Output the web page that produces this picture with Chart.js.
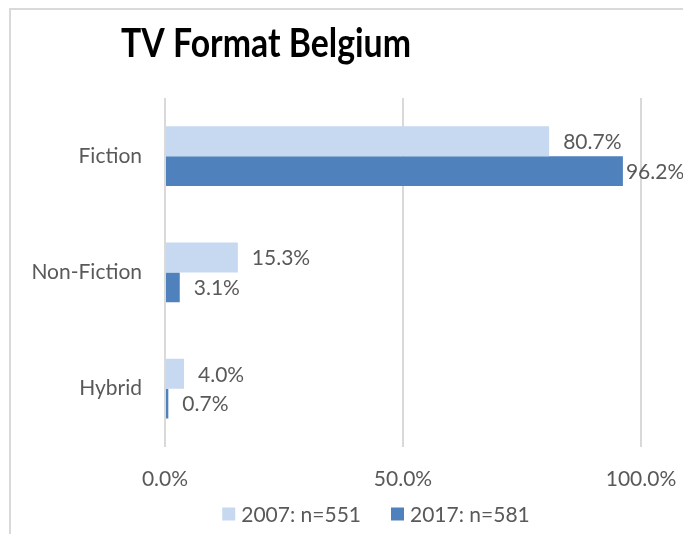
<!DOCTYPE html>
<html>
<head>
<meta charset="utf-8">
<script src="https://cdn.jsdelivr.net/npm/chart.js@4.4.1/dist/chart.umd.min.js"></script>
<style>
  html, body { margin: 0; padding: 0; background: #fff; }
  #wrap { position: relative; width: 683px; height: 534px; }
  #frame { position: absolute; left: 9px; top: 8px; right: 0; bottom: 0;
           border-top: 2px solid #d9d9d9; border-left: 2px solid #d9d9d9; }
  canvas { position: absolute; left: 0; top: 0; }
</style>
</head>
<body>
<div id="wrap">
  <div id="frame"></div>
  <canvas id="myChart" width="683" height="534"></canvas>
</div>
<script>
"use strict";

var categories = ["Fiction", "Non-Fiction", "Hybrid"];
var series2007 = [80.7, 15.3, 4.0];
var series2017 = [96.2, 3.1, 0.7];
var seriesNames = ["2007: n=551", "2017: n=581"];
var seriesColors = ["#c6d9f1", "#4f81bd"];
var tickValues = [0, 50, 100];

var FONT = "Lato, 'Liberation Sans', sans-serif";
var TEXT = "#595959";

// title + legend drawn on the canvas, placed where the original has them
var textPlugin = {
    id: "titleLegend",
    afterDraw: function (chart) {
        var c = chart.ctx;
        c.save();
        // the original title font is tall and narrow, squeeze it a bit
        c.translate(266, 44);
        c.scale(0.845, 1);
        c.font = "bold 40px " + FONT;
        c.fillStyle = "#000";
        c.textAlign = "center";
        c.textBaseline = "middle";
        c.fillText("TV Format Belgium", 0, 0);
        c.restore();

        c.save();
        c.font = "21px " + FONT;
        c.textAlign = "left";
        c.textBaseline = "middle";
        var box = 13, gap = 6, between = 30;
        var widths = seriesNames.map(function (s) { return c.measureText(s).width; });
        var total = 0;
        widths.forEach(function (w, i) { total += box + gap + w + (i ? between : 0); });
        var x = 376 - total / 2, y = 514;
        chart.data.datasets.forEach(function (ds, i) {
            c.fillStyle = ds.backgroundColor;
            c.fillRect(x, y - box / 2, box, box);
            c.fillStyle = TEXT;
            c.fillText(ds.label, x + box + gap, y + 1);
            x += box + gap + widths[i] + between;
        });
        c.restore();
    }
};

// value labels at the end of each bar
var labelPlugin = {
    id: "barLabels",
    afterDatasetsDraw: function (chart) {
        var c = chart.ctx;
        c.save();
        c.font = "21px " + FONT;
        c.fillStyle = TEXT;
        c.textBaseline = "middle";
        c.textAlign = "left";
        chart.data.datasets.forEach(function (ds, i) {
            chart.getDatasetMeta(i).data.forEach(function (bar, j) {
                var txt = ds.data[j].toFixed(1) + "%";
                var w = c.measureText(txt).width;
                // keep near the bar end, but leave a small gap when pushed against the edge
                var x = Math.max(Math.min(bar.x + 14, chart.width - w + 1), bar.x + 3);
                c.fillText(txt, x, bar.y + 1);
            });
        });
        c.restore();
    }
};

var ctx = document.getElementById("myChart");

var myChart = new Chart(ctx, {
    type: "bar",
    data: {
        labels: categories,
        datasets: [
            {
                label: seriesNames[0],
                data: series2007,
                backgroundColor: seriesColors[0],
                categoryPercentage: 0.513,
                barPercentage: 1.0
            },
            {
                label: seriesNames[1],
                data: series2017,
                backgroundColor: seriesColors[1],
                categoryPercentage: 0.513,
                barPercentage: 1.0
            }
        ]
    },
    options: {
        indexAxis: "y",
        responsive: false,
        animation: false,
        layout: {
            padding: { top: 98, left: 0, right: 42, bottom: 22 }
        },
        scales: {
            x: {
                min: 0,
                max: 100,
                afterBuildTicks: function (scale) {
                    scale.ticks = tickValues.map(function (v) { return { value: v }; });
                },
                afterFit: function (scale) {
                    scale.paddingLeft = 0;
                    scale.paddingRight = 0;
                },
                grid: { color: "#d9d9d9", lineWidth: 2, drawTicks: false },
                border: { display: false },
                ticks: {
                    padding: 20,
                    color: TEXT,
                    font: { family: FONT, size: 21 },
                    callback: function (v) { return v.toFixed(1) + "%"; }
                }
            },
            y: {
                afterFit: function (scale) { scale.width = 165; },
                grid: { display: false, drawTicks: false },
                border: { display: false },
                ticks: {
                    padding: 23,
                    color: TEXT,
                    font: { family: FONT, size: 21 }
                }
            }
        },
        plugins: {
            title: { display: false },
            tooltip: { enabled: false },
            legend: { display: false }
        }
    },
    plugins: [textPlugin, labelPlugin]
});
</script>
</body>
</html>
